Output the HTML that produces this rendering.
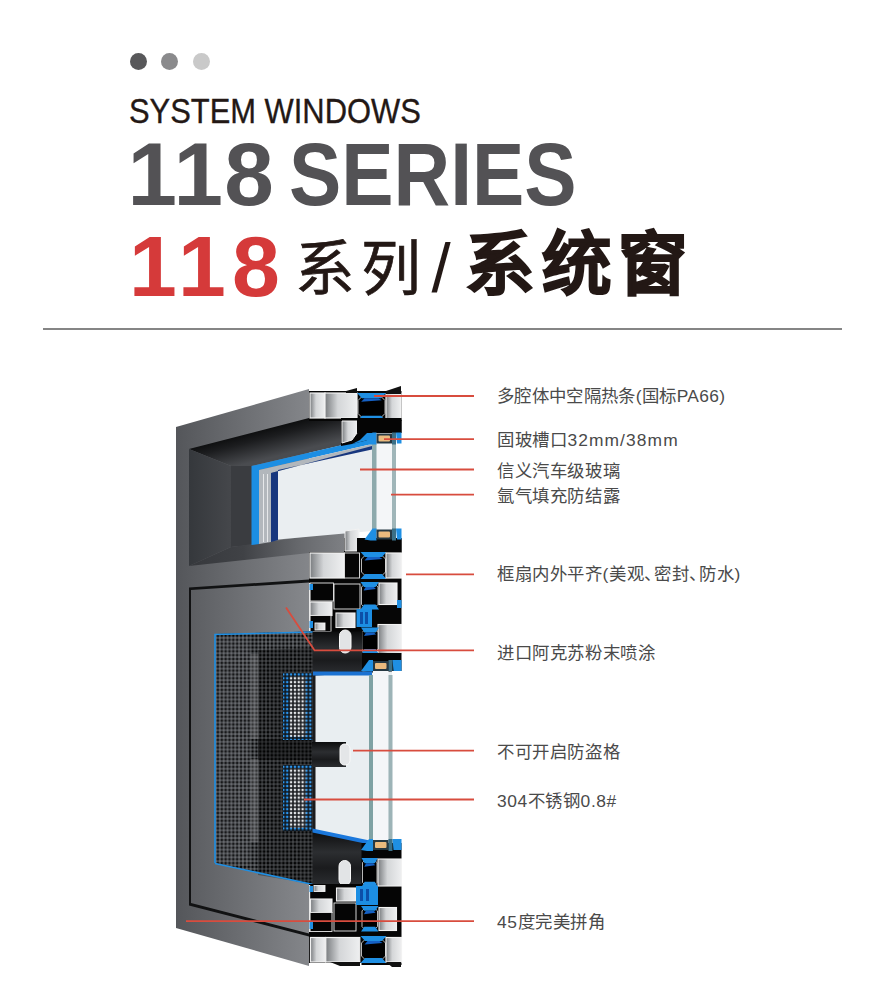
<!DOCTYPE html>
<html lang="zh-CN">
<head>
<meta charset="utf-8">
<style>
html,body{margin:0;padding:0;background:#fff;}
body{width:885px;height:1003px;position:relative;overflow:hidden;font-family:"Liberation Sans",sans-serif;}
.t{position:absolute;white-space:nowrap;line-height:1;}
.dot{position:absolute;width:17px;height:17px;border-radius:50%;top:53px;}
#sw{left:129px;top:93.8px;font-size:34.9px;color:#231815;transform:scaleX(0.8855);transform-origin:0 0;-webkit-text-stroke:0.35px #231815;}
#g118{left:127.6px;top:130px;font-size:89px;font-weight:bold;color:#535255;letter-spacing:1.3px;}
#ser{left:289.2px;top:129.6px;font-size:89px;font-weight:bold;color:#535255;transform:scaleX(0.881);transform-origin:0 0;}
#r118{left:129px;top:223.3px;font-size:86px;font-weight:bold;color:#d53a3a;letter-spacing:6px;}
#xl{left:294.5px;top:240px;font-size:59.8px;color:#231815;letter-spacing:6.6px;-webkit-text-stroke:0.7px #231815;}
#sl{left:431.5px;top:233.5px;font-size:69px;color:#231815;}
#xtc{left:465px;top:231px;font-size:69.6px;font-weight:bold;color:#231815;letter-spacing:6.5px;-webkit-text-stroke:1.6px #231815;}
#hr{position:absolute;left:43px;top:328px;width:799px;height:2px;background:#858585;}
.lb{position:absolute;left:497px;font-size:17.4px;letter-spacing:0.6px;color:#4a4a4a;white-space:nowrap;line-height:1;}
.dn{display:inline-block;width:10px;}
svg{position:absolute;left:0;top:0;}
</style>
</head>
<body>
<svg width="885" height="1003" viewBox="0 0 885 1003">
<defs>
 <linearGradient id="gFace" x1="176" y1="0" x2="309" y2="0" gradientUnits="userSpaceOnUse">
  <stop offset="0" stop-color="#54565a"/><stop offset="1" stop-color="#84868a"/>
 </linearGradient>
 <linearGradient id="gSash" x1="191" y1="0" x2="309" y2="0" gradientUnits="userSpaceOnUse">
  <stop offset="0" stop-color="#5c5e62"/><stop offset="1" stop-color="#86888c"/>
 </linearGradient>
 <linearGradient id="gBot" x1="176" y1="0" x2="309" y2="0" gradientUnits="userSpaceOnUse">
  <stop offset="0" stop-color="#56585c"/><stop offset="1" stop-color="#8a8c90"/>
 </linearGradient>
 <linearGradient id="gRev" x1="250" y1="433" x2="257" y2="461" gradientUnits="userSpaceOnUse">
  <stop offset="0" stop-color="#0e0f10"/><stop offset="0.3" stop-color="#1c1d1f"/><stop offset="1" stop-color="#4a4c50"/>
 </linearGradient>
 <linearGradient id="gWall" x1="189" y1="0" x2="231" y2="0" gradientUnits="userSpaceOnUse">
  <stop offset="0" stop-color="#35383c"/><stop offset="1" stop-color="#45474b"/>
 </linearGradient>
 <linearGradient id="gSill" x1="189" y1="0" x2="345" y2="0" gradientUnits="userSpaceOnUse">
  <stop offset="0" stop-color="#36383c"/><stop offset="0.35" stop-color="#404246"/><stop offset="0.7" stop-color="#66686c"/><stop offset="1" stop-color="#7e8084"/>
 </linearGradient>
 <linearGradient id="gCh" x1="0" y1="0" x2="1" y2="0">
  <stop offset="0" stop-color="#7a7d80"/><stop offset="0.4" stop-color="#d4d6d8"/><stop offset="1" stop-color="#eeeff0"/>
 </linearGradient>
 <linearGradient id="gBar" x1="0" y1="0" x2="0" y2="1">
  <stop offset="0" stop-color="#0c0d0e"/><stop offset="0.4" stop-color="#2c2e31"/><stop offset="0.7" stop-color="#1a1b1d"/><stop offset="1" stop-color="#2a2c2f"/>
 </linearGradient>
 <pattern id="mesh" x="216" y="634" width="3.85" height="3.85" patternUnits="userSpaceOnUse">
  <rect width="3.85" height="3.85" fill="#686b6f"/>
  <rect x="0.55" y="0.55" width="2.75" height="2.75" rx="0.9" fill="#08090a"/>
 </pattern>
 <pattern id="meshL" x="216" y="634" width="3.85" height="3.85" patternUnits="userSpaceOnUse">
  <rect width="3.85" height="3.85" fill="#202226"/>
  <rect x="0.8" y="0.8" width="2.25" height="2.25" rx="0.7" fill="#e4e7ea"/>
 </pattern>
 <pattern id="meshB" x="216" y="634" width="3.85" height="3.85" patternUnits="userSpaceOnUse">
  <rect width="3.85" height="3.85" fill="#101820"/>
  <rect x="0.8" y="0.8" width="2.25" height="2.25" rx="0.7" fill="#2b95ee"/>
 </pattern>
</defs>
<polygon points="176,427 309,389 309,966 176,928" fill="url(#gFace)"/>
<polygon points="189,449 309,418 345,418 345,444.5 251.5,466 231,466" fill="url(#gRev)"/>
<polygon points="189,449 231,466 231,547 189,566" fill="url(#gWall)"/>
<polygon points="231,466 252,466 252,545 231,547" fill="#3a3c40"/>
<polygon points="189,566 231,547 345,531 345,553 309,553" fill="url(#gSill)"/>
<polygon points="278,470 372,449 402,444 402,531 372,531 278,539.5" fill="#eaeef1"/>
<rect x="376" y="441" width="16" height="91" fill="#f4f6f8"/>
<rect x="396" y="441" width="6" height="91" fill="#ffffff"/>
<polygon points="251.5,466 372,438 372,444 259,470 259,544 251.5,545" fill="#1c8ee3"/>
<polygon points="259,470 372,444 372,447 271,473 271,542 259,544" fill="#b2b7bc"/>
<rect x="263" y="474" width="1" height="68" fill="#e6e8ea"/>
<rect x="267" y="474" width="1" height="68" fill="#e6e8ea"/>
<polygon points="271,473 372,446 372,449.5 278,470 278,540 271,542" fill="#17367e"/>
<rect x="372" y="444" width="4.5" height="88" fill="#8eaaad"/>
<rect x="392" y="441" width="4" height="91" fill="#a0b6b9"/>
<rect x="309" y="391" width="92.5" height="30" fill="#060606"/>
<rect x="310" y="393" width="15" height="25" fill="url(#gCh)" stroke="#f2f2f2" stroke-width="1.2"/>
<rect x="325" y="393" width="32" height="25" fill="url(#gCh)" stroke="#f2f2f2" stroke-width="1.2"/>
<rect x="386" y="394" width="15" height="25" fill="url(#gCh)" stroke="#f2f2f2" stroke-width="1.2"/>
<polygon points="364.5,394.0 378.5,394.0 385.0,400.5 385.0,413.5 378.5,420.0 364.5,420.0 358.0,413.5 358.0,400.5" fill="#000" stroke="#e6e6e6" stroke-width="0.8"/>
<polygon points="357.0,393.0 386.0,393.0 381.1,398.2 361.9,398.2" fill="#1f8fe3"/>
<polygon points="361.9,415.8 381.1,415.8 386.0,421.0 357.0,421.0" fill="#1f8fe3"/>
<polygon points="364.5,398.2 378.5,398.2 381.8,400.2 361.2,401.7" fill="#1560c4"/>
<polygon points="346,391 357,388 357,393 346,393" fill="#111"/>
<polygon points="386,391 401,386 401,394 386,394" fill="#111"/>
<polygon points="341,418 401.5,418 401.5,433 376,433 372,439 352,444 341,446" fill="#050505"/>
<polygon points="342,421 357,421 357,433 352,440 342,443" fill="url(#gCh)" stroke="#f2f2f2" stroke-width="1"/>
<polygon points="352,444 372,439 376.5,432 368,432 360,440" fill="#1c8ee3"/>
<rect x="357" y="420" width="44.5" height="13" fill="#050505"/>
<polygon points="364.5,443.5 372.5,432.5 376.5,432.5 376.5,444.5 370.5,444.5" fill="#1f8fe3"/>
<rect x="376.5" y="433.5" width="15.5" height="10" fill="#263842"/>
<rect x="378.5" y="435.5" width="11.5" height="6" rx="1" fill="#e9ba7e"/>
<rect x="392" y="432.5" width="4" height="12" fill="#3b6f86"/>
<polygon points="396,432.5 401.5,432.5 401.5,443.5 397,443.5" fill="#1f8fe3"/>
<rect x="309" y="552" width="92.5" height="82" fill="#060606"/>
<rect x="344" y="538" width="57.5" height="16" fill="#060606"/>
<polygon points="345,531 359,529 359,551 345,551" fill="url(#gCh)" stroke="#f2f2f2" stroke-width="1"/>
<rect x="357" y="538" width="44.5" height="15" fill="#050505"/>
<polygon points="364.5,539.5 372.5,528.5 376.5,528.5 376.5,540.5 370.5,540.5" fill="#1f8fe3"/>
<rect x="376.5" y="529.5" width="15.5" height="10" fill="#263842"/>
<rect x="378.5" y="531.5" width="11.5" height="6" rx="1" fill="#e9ba7e"/>
<rect x="392" y="528.5" width="4" height="12" fill="#3b6f86"/>
<polygon points="396,528.5 401.5,528.5 401.5,539.5 397,539.5" fill="#1f8fe3"/>
<rect x="310" y="553" width="34" height="25" fill="url(#gCh)" stroke="#f2f2f2" stroke-width="1.2"/>
<rect x="344.5" y="553" width="15" height="25" fill="#050505" stroke="#e8e8e8" stroke-width="0.9"/>
<polygon points="367.5,553.0 379.5,553.0 385.5,559.0 385.5,572.0 379.5,578.0 367.5,578.0 361.5,572.0 361.5,559.0" fill="#000" stroke="#e6e6e6" stroke-width="0.8"/>
<polygon points="360.5,552.0 386.5,552.0 381.9,557.0 365.1,557.0" fill="#1f8fe3"/>
<polygon points="365.1,574.0 381.9,574.0 386.5,579.0 360.5,579.0" fill="#1f8fe3"/>
<polygon points="367.5,557.0 379.5,557.0 382.5,559.0 364.5,560.5" fill="#1560c4"/>
<rect x="386" y="553" width="15.5" height="25" fill="url(#gCh)" stroke="#f2f2f2" stroke-width="1.2"/>
<rect x="310" y="583" width="23.5" height="18" fill="#050505" stroke="#e8e8e8" stroke-width="0.9"/>
<rect x="310" y="602" width="22" height="13.5" fill="url(#gCh)" stroke="#f2f2f2" stroke-width="1.1"/>
<rect x="310" y="615.5" width="21" height="16" fill="#050505" stroke="#e8e8e8" stroke-width="0.9"/>
<rect x="315" y="623" width="10" height="7" fill="url(#gCh)" stroke="#f2f2f2" stroke-width="0.9"/>
<rect x="334" y="584" width="26" height="25" fill="#050505" stroke="#e8e8e8" stroke-width="0.9"/>
<rect x="336" y="613" width="19" height="14.5" fill="url(#gCh)" stroke="#f2f2f2" stroke-width="1.1"/>
<polygon points="365.6,583.0 373.9,583.0 378.0,587.1 378.0,604.4 373.9,608.5 365.6,608.5 361.5,604.4 361.5,587.1" fill="#000" stroke="#e6e6e6" stroke-width="0.8"/>
<polygon points="360.5,582.0 379.0,582.0 375.5,587.1 364.0,587.1" fill="#1f8fe3"/>
<polygon points="364.0,604.4 375.5,604.4 379.0,609.5 360.5,609.5" fill="#1f8fe3"/>
<polygon points="365.6,587.1 373.9,587.1 375.9,589.1 363.6,590.6" fill="#1560c4"/>
<rect x="379" y="583" width="18" height="21.5" fill="url(#gCh)" stroke="#f2f2f2" stroke-width="1.1"/>
<polygon points="356.5,609 372,609 372,627 356.5,627" fill="#1c8ee3"/>
<rect x="360" y="612" width="3" height="12" fill="#0c4fa8"/>
<rect x="365" y="612" width="3" height="12" fill="#0c4fa8"/>
<rect x="378" y="624.5" width="23.5" height="29.5" fill="url(#gCh)" stroke="#f2f2f2" stroke-width="1.1"/>
<polygon points="366.0,628.5 374.0,628.5 378.0,632.5 378.0,649.0 374.0,653.0 366.0,653.0 362.0,649.0 362.0,632.5" fill="#000" stroke="#e6e6e6" stroke-width="0.8"/>
<polygon points="361.0,627.5 379.0,627.5 375.6,632.4 364.4,632.4" fill="#1f8fe3"/>
<polygon points="364.4,649.1 375.6,649.1 379.0,654.0 361.0,654.0" fill="#1f8fe3"/>
<polygon points="366.0,632.4 374.0,632.4 376.0,634.4 364.0,635.9" fill="#1560c4"/>
<rect x="397" y="600" width="4.5" height="8" fill="#1f8fe3"/>
<rect x="309" y="583" width="1.2" height="48" fill="#e8e8e8"/>
<rect x="309.5" y="584" width="3.5" height="6" fill="#1f8fe3"/>
<rect x="309.5" y="621" width="3.5" height="7" fill="#1f8fe3"/>
<polygon points="189,587.5 309,579.5 309,936.5 189,905.5" fill="#111213"/>
<polygon points="191,590 309,582.5 309,634 216,634 216,863 309,884 309,933.5 191,903" fill="url(#gSash)"/>
<polygon points="216,634 313,631.5 313,884 216,863" fill="#141517"/>
<rect x="250.5" y="654" width="8" height="85" fill="#4a4c50"/>
<rect x="250.5" y="759" width="8" height="83" fill="#4a4c50"/>
<polygon points="216,634 313,631.5 313,884 216,863" fill="url(#mesh)"/>
<polygon points="258,650 313,648 313,884 258,875" fill="#000" opacity="0.3"/>
<rect x="250.5" y="654" width="8" height="85" fill="#9a9ca0" opacity="0.3"/>
<rect x="250.5" y="759" width="8" height="83" fill="#9a9ca0" opacity="0.3"/>
<rect x="216" y="636" width="34" height="228" fill="#8a8c90" opacity="0.12"/>
<rect x="258" y="739" width="54" height="21" fill="#000" opacity="0.3"/>
<polyline points="215,863 215,634.5 313,632" fill="none" stroke="#1f8fe3" stroke-width="1.6"/>
<line x1="215" y1="863.5" x2="313" y2="884.5" stroke="#1f8fe3" stroke-width="1.6"/>
<rect x="312.5" y="631.5" width="50" height="41" fill="url(#gBar)"/>
<rect x="339.5" y="630" width="11.5" height="23" rx="5.7" fill="#e2e4e6" stroke="#fafafa" stroke-width="1"/>
<rect x="362" y="653" width="39.5" height="18" fill="#050505"/>
<polygon points="361,671 369,660 373,660 373,672 367,672" fill="#1f8fe3"/>
<rect x="373" y="661" width="15.5" height="10" fill="#263842"/>
<rect x="375" y="663" width="11.5" height="6" rx="1" fill="#e9ba7e"/>
<rect x="388.5" y="660" width="4" height="12" fill="#3b6f86"/>
<polygon points="392.5,660 401.5,660 401.5,671 393.5,671" fill="#1f8fe3"/>
<polygon points="312.5,672 402,671 402,843 372,843 312.5,830" fill="#1a1b1d"/>
<polygon points="315.5,675.5 402,671 402,843 372,843 315.5,830.5" fill="#e9eef1"/>
<rect x="373" y="671" width="15.5" height="172" fill="#f4f6f8"/>
<rect x="392" y="671" width="10" height="172" fill="#ffffff"/>
<rect x="313" y="671.5" width="59" height="4" fill="#1b72d2"/>
<rect x="369" y="675" width="4" height="168" fill="#7fa2a4"/>
<rect x="388.5" y="675" width="4" height="168" fill="#9db4b7"/>
<rect x="283" y="673" width="29.5" height="67" fill="url(#meshL)"/>
<rect x="283" y="673" width="6.5" height="67" fill="url(#meshB)"/>
<rect x="305.5" y="673" width="6.5" height="67" fill="url(#meshB)" opacity="0.9"/>
<rect x="283" y="673" width="29.5" height="3.25" fill="url(#meshB)"/>
<rect x="283" y="736.75" width="29.5" height="3.25" fill="url(#meshB)"/>
<rect x="283" y="765" width="29.5" height="66" fill="url(#meshL)"/>
<rect x="283" y="765" width="6.5" height="66" fill="url(#meshB)"/>
<rect x="305.5" y="765" width="6.5" height="66" fill="url(#meshB)" opacity="0.9"/>
<rect x="283" y="765" width="29.5" height="3.25" fill="url(#meshB)"/>
<rect x="283" y="827.75" width="29.5" height="3.25" fill="url(#meshB)"/>
<polygon points="312,742 346,742 346,767 312,767" fill="url(#gBar)"/>
<rect x="340" y="744" width="10" height="21" rx="4.5" fill="#e4e6e8" stroke="#fafafa" stroke-width="1"/>
<polygon points="312.5,831 364,841 362,884 312.5,884" fill="url(#gBar)"/>
<polygon points="312.5,828.5 372,841 372,845 312.5,832.5" fill="#1b78dc"/>
<rect x="339" y="860.5" width="11.5" height="25" rx="5.7" fill="#e2e4e6" stroke="#fafafa" stroke-width="1"/>
<rect x="361.5" y="843" width="40" height="122" fill="#050505"/>
<rect x="309" y="884" width="53" height="79" fill="#050505"/>
<polygon points="361,850 369,839 373,839 373,851 367,851" fill="#1f8fe3"/>
<rect x="373" y="840" width="15.5" height="10" fill="#263842"/>
<rect x="375" y="842" width="11.5" height="6" rx="1" fill="#e9ba7e"/>
<rect x="388.5" y="839" width="4" height="12" fill="#3b6f86"/>
<polygon points="392.5,839 401.5,839 401.5,850 393.5,850" fill="#1f8fe3"/>
<polygon points="366.1,859.0 373.4,859.0 377.0,862.6 377.0,882.4 373.4,886.0 366.1,886.0 362.5,882.4 362.5,862.6" fill="#000" stroke="#e6e6e6" stroke-width="0.8"/>
<polygon points="361.5,858.0 378.0,858.0 374.8,863.3 364.7,863.3" fill="#1f8fe3"/>
<polygon points="364.7,881.7 374.8,881.7 378.0,887.0 361.5,887.0" fill="#1f8fe3"/>
<polygon points="366.1,863.3 373.4,863.3 375.2,865.3 364.3,866.8" fill="#1560c4"/>
<rect x="378" y="859" width="23.5" height="27" fill="url(#gCh)" stroke="#f2f2f2" stroke-width="1.1"/>
<rect x="314" y="885.5" width="11" height="6" fill="url(#gCh)" stroke="#f2f2f2" stroke-width="0.9"/>
<rect x="336.5" y="888" width="19.5" height="13" fill="url(#gCh)" stroke="#f2f2f2" stroke-width="1.1"/>
<rect x="310.5" y="899" width="21.5" height="13.5" fill="url(#gCh)" stroke="#f2f2f2" stroke-width="1.1"/>
<rect x="310" y="912.5" width="22" height="19" fill="#050505" stroke="#e8e8e8" stroke-width="0.9"/>
<rect x="334" y="903" width="22" height="28" fill="#050505" stroke="#e8e8e8" stroke-width="0.9"/>
<polygon points="356,886 378,886 378,905 356,905" fill="#1c8ee3"/>
<rect x="360" y="889" width="3" height="12" fill="#0c4fa8"/>
<rect x="366" y="889" width="3" height="12" fill="#0c4fa8"/>
<polygon points="365.9,907.0 373.6,907.0 377.5,910.9 377.5,926.6 373.6,930.5 365.9,930.5 362.0,926.6 362.0,910.9" fill="#000" stroke="#e6e6e6" stroke-width="0.8"/>
<polygon points="361.0,906.0 378.5,906.0 375.2,910.8 364.3,910.8" fill="#1f8fe3"/>
<polygon points="364.3,926.7 375.2,926.7 378.5,931.5 361.0,931.5" fill="#1f8fe3"/>
<polygon points="365.9,910.8 373.6,910.8 375.6,912.8 363.9,914.3" fill="#1560c4"/>
<rect x="379" y="907.5" width="17.5" height="23" fill="url(#gCh)" stroke="#f2f2f2" stroke-width="1.1"/>
<rect x="309" y="885" width="1.2" height="47" fill="#e8e8e8"/>
<rect x="309.5" y="886" width="3.5" height="6" fill="#1f8fe3"/>
<rect x="309.5" y="922" width="3.5" height="7" fill="#1f8fe3"/>
<rect x="310.5" y="937.5" width="15" height="24.5" fill="url(#gCh)" stroke="#f2f2f2" stroke-width="1.2"/>
<rect x="325.8" y="937.5" width="34" height="24.5" fill="url(#gCh)" stroke="#f2f2f2" stroke-width="1.2"/>
<polygon points="367.5,937.0 379.5,937.0 385.5,943.0 385.5,956.0 379.5,962.0 367.5,962.0 361.5,956.0 361.5,943.0" fill="#000" stroke="#e6e6e6" stroke-width="0.8"/>
<polygon points="360.5,936.0 386.5,936.0 381.9,941.0 365.1,941.0" fill="#1f8fe3"/>
<polygon points="365.1,958.0 381.9,958.0 386.5,963.0 360.5,963.0" fill="#1f8fe3"/>
<polygon points="367.5,941.0 379.5,941.0 382.5,943.0 364.5,944.5" fill="#1560c4"/>
<rect x="386" y="937.5" width="15.5" height="24.5" fill="url(#gCh)" stroke="#f2f2f2" stroke-width="1.2"/>
<polygon points="330,962 360,962 360,966 340,966" fill="#111"/>
<polygon points="386,962 401,962 401,967 392,967" fill="#111"/>
<g stroke="#d84c3e" stroke-width="1.8" fill="none">
 <line x1="374" y1="396" x2="474" y2="396"/>
 <line x1="384" y1="439.2" x2="474" y2="439.2"/>
 <line x1="360" y1="469.5" x2="474" y2="469.5"/>
 <line x1="391" y1="494.6" x2="474" y2="494.6"/>
 <line x1="406" y1="574.4" x2="474" y2="574.4"/>
 <polyline points="286,607.5 314.6,650.4 474,650.4"/>
 <line x1="353" y1="750.7" x2="474" y2="750.7"/>
 <line x1="304" y1="799.5" x2="474" y2="799.5"/>
 <line x1="186" y1="921.2" x2="474" y2="921.2"/>
</g>
</svg>

<div class="dot" style="left:130px;background:#58585a"></div>
<div class="dot" style="left:161px;background:#8a8a8c"></div>
<div class="dot" style="left:193px;background:#c9c9c9"></div>
<div class="t" id="sw">SYSTEM WINDOWS</div>
<div class="t" id="g118">118</div>
<div class="t" id="ser">SERIES</div>
<div class="t" id="r118">118</div>
<div class="t" id="xl">系列</div>
<div class="t" id="sl">/</div>
<div class="t" id="xtc">系统窗</div>
<div id="hr"></div>

<div class="lb" style="top:388px;letter-spacing:0.35px">多腔体中空隔热条(国标PA66)</div>
<div class="lb" style="top:432px">固玻槽口<span style="letter-spacing:1.1px">32mm/38mm</span></div>
<div class="lb" style="top:463px">信义汽车级玻璃</div>
<div class="lb" style="top:488px">氩气填充防结露</div>
<div class="lb" style="top:566px">框扇内外平齐(美观<span class="dn">、</span>密封<span class="dn">、</span>防水)</div>
<div class="lb" style="top:645px">进口阿克苏粉末喷涂</div>
<div class="lb" style="top:744px">不可开启防盗格</div>
<div class="lb" style="top:793px">304不锈钢0.8#</div>
<div class="lb" style="top:914px">45度完美拼角</div>
</body>
</html>
